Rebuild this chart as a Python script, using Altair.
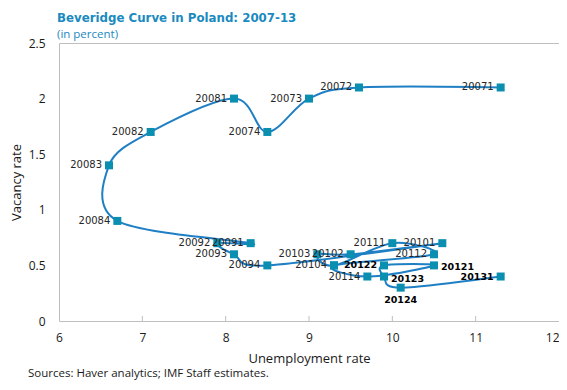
import altair as alt
import pandas as pd

quarters = ["20071", "20072", "20073", "20074", "20081", "20082", "20083", "20084",
            "20091", "20092", "20093", "20094", "20101", "20102", "20103", "20104",
            "20111", "20112", "20113", "20114", "20121", "20122", "20123", "20124",
            "20131"]
unemployment = [11.3, 9.6, 9.0, 8.5, 8.1, 7.1, 6.6, 6.7,
                8.3, 7.9, 8.1, 8.5, 10.6, 9.5, 9.1, 9.3,
                10.0, 10.5, 9.3, 9.7, 10.5, 9.9, 9.9, 10.1,
                11.3]
vacancy = [2.1, 2.1, 2.0, 1.7, 2.0, 1.7, 1.4, 0.9,
           0.7, 0.7, 0.6, 0.5, 0.7, 0.6, 0.6, 0.5,
           0.7, 0.6, 0.5, 0.4, 0.5, 0.5, 0.4, 0.3,
           0.4]
x_ticks = [6, 7, 8, 9, 10, 11, 12]
y_ticks = [0, 0.5, 1, 1.5, 2, 2.5]

unlabeled = ["20113"]
right_labels = ["20121", "20123"]
below_labels = ["20124"]

df = pd.DataFrame({"q": quarters, "u": unemployment, "v": vacancy,
                   "i": list(range(len(quarters)))})
df["bold"] = df["q"].str[:4] >= "2012"
df["place"] = ["none" if q in unlabeled else "right" if q in right_labels
               else "below" if q in below_labels else "left" for q in quarters]

W, H = 500, 278
LINE = "#1f7fc4"
MARK = "#0b8fb0"
TEAL = "#1a8ac0"
FONT = "Open Sans"
LFONT = "DejaVu Sans"

xs = alt.Scale(domain=[6, 12], nice=False)
ys = alt.Scale(domain=[0, 2.5], nice=False)

base = alt.Chart(df)

x_label_align = {"condition": {"test": f"datum.value == {x_ticks[-1]}", "value": "right"},
                 "value": "center"}

line = base.mark_line(interpolate="cardinal", color=LINE, strokeWidth=2).encode(
    x=alt.X("u:Q", scale=xs, axis=alt.Axis(values=x_ticks, title="Unemployment rate",
                                            labelPadding=11, titlePadding=9, format="~g",
                                            labelFlush=False, labelAlign=x_label_align)),
    y=alt.Y("v:Q", scale=ys, axis=alt.Axis(values=y_ticks, title="Vacancy rate",
                                            labelPadding=14, titlePadding=5, format="~g",
                                            labelFlush=False)),
    order="i:Q",
)

pts = base.mark_square(size=64, color=MARK, opacity=1).encode(
    x=alt.X("u:Q", scale=xs), y=alt.Y("v:Q", scale=ys))


def labels(place, bold, **kw):
    return base.transform_filter(
        (alt.datum.place == place) & (alt.datum.bold == bold)
    ).mark_text(font=LFONT, fontSize=10 if not bold else 9.5,
                fontWeight="bold" if bold else "normal",
                color="#000000" if bold else "#262626", **kw).encode(
        x=alt.X("u:Q", scale=xs), y=alt.Y("v:Q", scale=ys), text="q:N")


texts = [
    labels("left", False, align="right", baseline="middle", dx=-7),
    labels("left", True, align="right", baseline="middle", dx=-7),
    labels("right", True, align="left", baseline="middle", dx=7, dy=2),
    labels("below", True, align="center", baseline="top", dy=7),
]

tick_df = pd.DataFrame({"t": x_ticks[1:-1]})
ticks = alt.Chart(tick_df).mark_rule(color="#bfbfbf", strokeWidth=1).encode(
    x=alt.X("t:Q", scale=xs), y=alt.value(H), y2=alt.value(H - 5))

src = alt.Chart(pd.DataFrame({"s": ["Sources: Haver analytics; IMF Staff estimates."]})).mark_text(
    font=FONT, fontSize=11.5, color="#1a1a1a", align="left", baseline="middle").encode(
    x=alt.value(-31), y=alt.value(331), text="s:N")

chart = alt.layer(line, pts, *texts, ticks, src).properties(
    width=W, height=H,
    title=alt.TitleParams(
        text="Beveridge Curve in Poland: 2007-13",
        subtitle="(in percent)",
        anchor="start", frame="group", dx=-2, offset=-3,
        font=LFONT, fontSize=11.8, fontWeight="bold", color=TEAL,
        subtitleFont=FONT, subtitleFontSize=11.5, subtitleColor=TEAL, subtitlePadding=4,
    ),
    autosize=alt.AutoSizeParams(type="none"),
    padding={"left": 51, "top": 35, "right": 0, "bottom": 60},
).configure_view(stroke="#bfbfbf", strokeWidth=1).configure_axis(
    grid=False, ticks=False, domain=False,
    labelFont=FONT, labelFontSize=12, labelColor="#1a1a1a",
    titleFont=FONT, titleFontSize=13, titleFontWeight="normal", titleColor="#1a1a1a",
)

chart.save("out.html", embed_options={"renderer": "svg", "actions": False})
